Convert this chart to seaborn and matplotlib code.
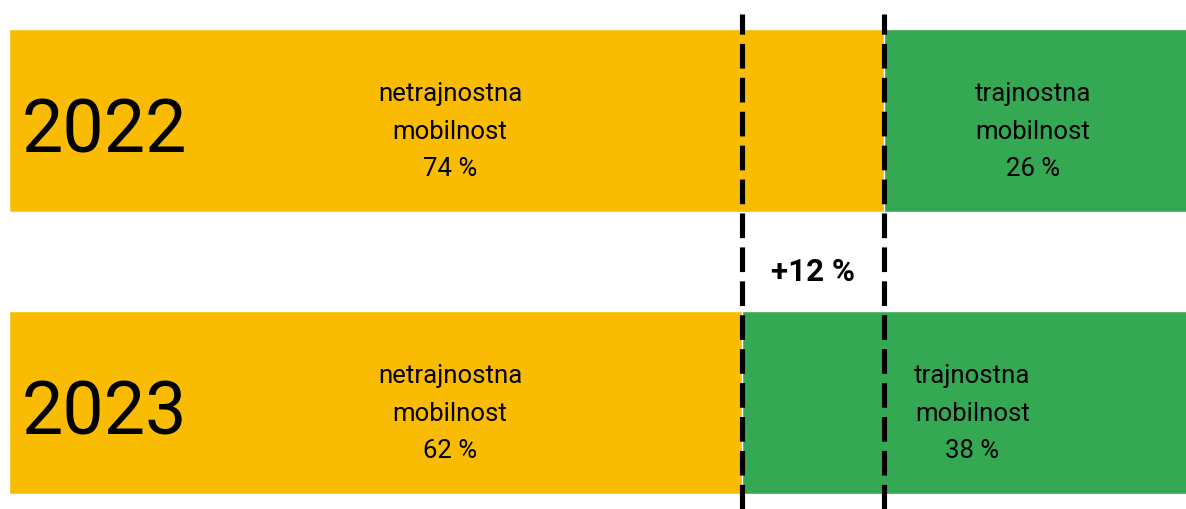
import matplotlib
matplotlib.use("Agg")
import matplotlib.pyplot as plt
import seaborn as sns
import pandas as pd

years = ["2022", "2023"]
netrajnostna = [74, 62]
trajnostna = [26, 38]
label_netr = "netrajnostna\nmobilnost"
label_traj = "trajnostna\nmobilnost"
change_label = "+12 %"

orange = "#F9BC02"
green = "#34A853"

sns.set_style("white")
plt.rcParams["font.family"] = ["Roboto", "DejaVu Sans"]
plt.rcParams["text.color"] = "black"

df = pd.DataFrame({"year": years, "netr": netrajnostna,
                   "traj": trajnostna})
df["total"] = df["netr"] + df["traj"]

fig = plt.figure(figsize=(11.86, 5.09), dpi=100)
ax = fig.add_axes([9 / 1186, 0, 1182 / 1186, 1])

sns.barplot(data=df, x="total", y="year", color=green, width=0.649,
            saturation=1, ax=ax, orient="h")
sns.barplot(data=df, x="netr", y="year", color=orange, width=0.649,
            saturation=1, ax=ax, orient="h")

ax.set_xlim(0, 100)
ax.set_ylim(1.378, -0.427)
ax.axis("off")

# dashed guides at both splits
for v in sorted(netrajnostna):
    ax.axvline(v, ymin=0, ymax=1 - 14 / 509, color="black", lw=3.7,
               dashes=(4.8, 1.8), dash_capstyle="butt")

# text positions (x in data units, y offset from bar centre)
netr_x = [37.3, 37.3]
traj_x = [86.6, 81.5]
for i, yr in enumerate(years):
    ax.text(8.1, i + 0.04, yr, fontsize=53, ha="center", va="center")
    ax.text(netr_x[i], i + 0.04, f"{label_netr}\n{netrajnostna[i]} %",
            fontsize=18.5, ha="center", va="center", linespacing=1.7)
    ax.text(traj_x[i], i + 0.04, f"{label_traj}\n{trajnostna[i]} %",
            fontsize=18.5, ha="center", va="center", linespacing=1.7)

ax.text((netrajnostna[0] + netrajnostna[1]) / 2, 0.537, change_label,
        fontsize=22.5, fontweight="bold", ha="center", va="center")

fig.savefig("out.png", dpi=100)
